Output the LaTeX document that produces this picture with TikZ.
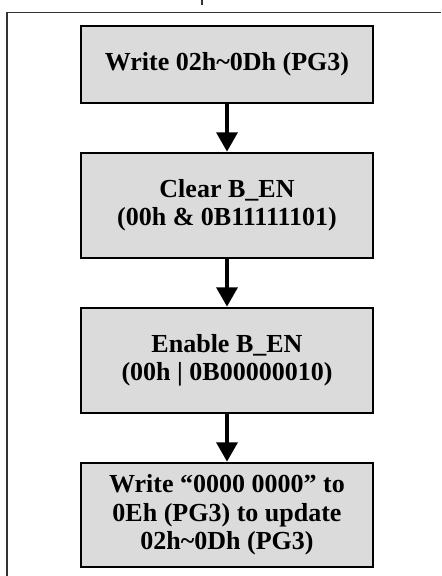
\documentclass[tikz,border=0pt]{standalone}
\usepackage{fontspec}
\setmainfont{Liberation Serif}
\usepackage{tikz}
\usetikzlibrary{positioning}
\usetikzlibrary{arrows.meta}

\tikzset{
	stepbox/.style = {draw, line width = 1.6pt, fill = black!14, minimum width = 5.84cm, align = center, inner sep = 0pt, font = \fontsize{14.8}{16.2}\selectfont\bfseries},
	flow/.style = {draw, line width = 2pt, -{Triangle[length = 11pt, width = 12pt]}},
	frame/.style = {draw, line width = 0.9pt, black!80}
}

\begin{document}
\begin{tikzpicture}
		\useasboundingbox (0, 0) rectangle (8.82, 11.52);

		\node[stepbox, minimum height = 1.54cm] (1) at (4.54, 10.23) {Write 02h\textasciitilde 0Dh (PG3)};
		\node[stepbox, minimum height = 2.1cm] (2) at (4.54, 7.41) {Clear B\_EN\\(00h \& 0B11111101)};
		\node[stepbox, minimum height = 2.1cm] (3) at (4.54, 4.31) {Enable B\_EN\\(00h | 0B00000010)};
		\node[stepbox, minimum height = 2.08cm] (4) at (4.54, 1.22) {Write “0000 0000” to\\0Eh (PG3) to update\\02h\textasciitilde 0Dh (PG3)};

		\path[flow] (1) -- (2);
		\path[flow] (2) -- (3);
		\path[flow] (3) -- (4);

		% frame round the chart
		\path[frame] (8.82, 11.27) -- (0.14, 11.27) -- (0.14, 0);
		\path[frame] (4.04, 11.52) -- (4.04, 11.42);
\end{tikzpicture}
\end{document}
